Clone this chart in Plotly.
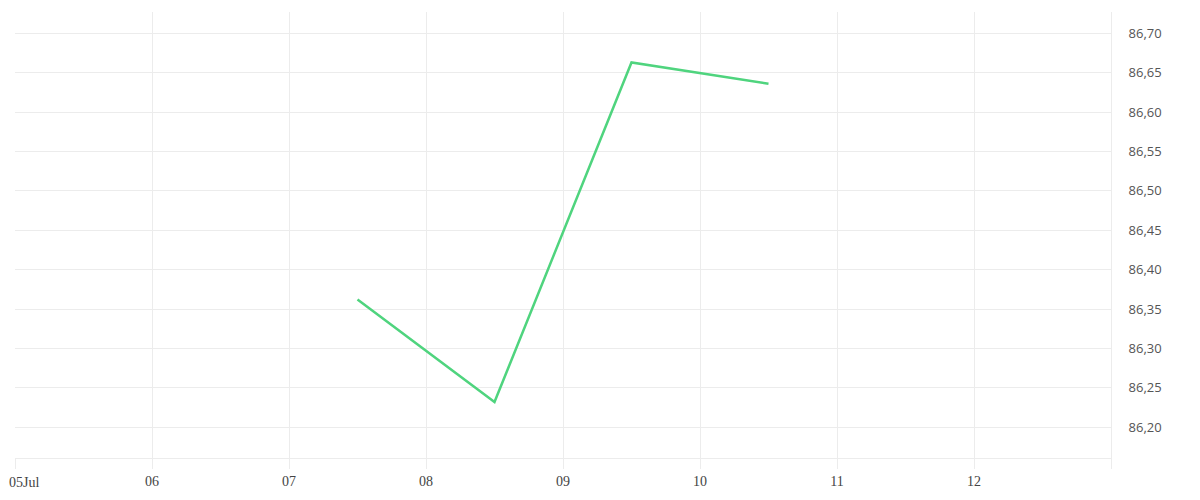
import plotly.graph_objects as go

dates = ["2024-07-07 12:00", "2024-07-08 12:00", "2024-07-09 12:00", "2024-07-10 12:00"]
values = [86.362, 86.232, 86.663, 86.636]

x_tick_vals = ["2024-07-05", "2024-07-06", "2024-07-07", "2024-07-08", "2024-07-09",
               "2024-07-10", "2024-07-11", "2024-07-12", "2024-07-13"]
x_tick_text = ["05Jul", "06", "07", "08", "09", "10", "11", "12", ""]
y_tick_vals = [86.20, 86.25, 86.30, 86.35, 86.40, 86.45, 86.50, 86.55, 86.60, 86.65, 86.70]

grid = "#ececec"
xfont = dict(family="Liberation Serif, DejaVu Serif, serif", size=14, color="#444")

# first label drawn as a left-anchored annotation so it stays inside the page
shown_text = [""] + x_tick_text[1:]

fig = go.Figure()
fig.add_trace(go.Scatter(
    x=dates, y=values, mode="lines",
    line=dict(color="#4fd47e", width=2.5),
    hoverinfo="x+y", showlegend=False,
))

fig.add_annotation(
    x=x_tick_vals[0], xref="x", y=0, yref="paper",
    text=x_tick_text[0], showarrow=False,
    xanchor="left", yanchor="middle", xshift=-7, yshift=-24,
    font=xfont, borderpad=0,
)

fig.update_layout(
    width=1200, height=500,
    margin=dict(l=7, r=97, t=4, b=50, autoexpand=False),
    paper_bgcolor="white", plot_bgcolor="white",
    separators=",.",
    xaxis=dict(
        type="date", automargin=False,
        range=["2024-07-05", "2024-07-13"],
        tickmode="array", tickvals=x_tick_vals, ticktext=shown_text,
        ticklabeloverflow="allow",
        showgrid=True, gridcolor=grid, gridwidth=1,
        ticks="outside", ticklen=10, tickcolor=grid,
        showline=True, linecolor=grid, linewidth=1,
        zeroline=False,
        tickfont=xfont,
    ),
    yaxis=dict(
        side="right", automargin=False,
        range=[86.161, 86.727],
        tickmode="array", tickvals=y_tick_vals,
        tickformat=".2f",
        showgrid=True, gridcolor=grid, gridwidth=1,
        ticks="outside", ticklen=14, tickcolor="rgba(0,0,0,0)",
        showline=True, linecolor=grid, linewidth=1,
        zeroline=False,
        tickfont=dict(family="Open Sans, Lato, sans-serif", size=13, color="#555"),
    ),
)

fig.write_html("out.html")
